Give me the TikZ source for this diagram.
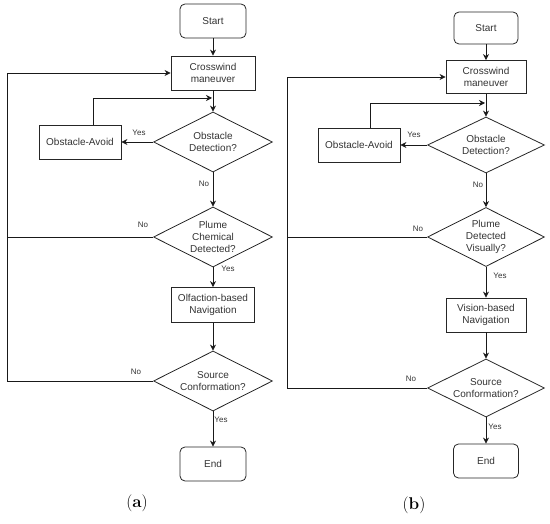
\documentclass[tikz,border=0pt]{standalone}
\usepackage{fontspec}
\setmainfont{Liberation Sans}
\newfontfamily\capfont{Latin Modern Roman}
\usetikzlibrary{shapes.geometric,arrows.meta,calc}
\tikzset{
  base/.style={draw=black!85, line width=0.8pt, inner sep=0pt, align=center,
    font=\fontsize{10}{12}\selectfont, text=black!80},
  term/.style={base, rounded corners=5pt},
  proc/.style={base},
  dec/.style={base, diamond, shape aspect=2},
  lbl/.style={font=\fontsize{8}{9}\selectfont, text=black!80, inner sep=0pt},
  conn/.style={draw=black!90, line width=0.8pt, -{Stealth[length=6pt,width=6pt]}},
  plain/.style={draw=black!90, line width=0.8pt},
  captext/.style={font=\capfont\fontsize{17}{20}\selectfont, inner sep=0pt}
}
\begin{document}
\begin{tikzpicture}[x=1pt,y=-1pt]
\useasboundingbox (0,0) rectangle (550,524);
% ---------- panel (a) ----------
\node[term, minimum width=66, minimum height=34] (aS) at (213,21) {Start};
\node[proc, minimum width=84, minimum height=34] (aC) at (213,73) {Crosswind\\maneuver};
\node[dec, minimum width=119, minimum height=60] (aO) at (213,142) {Obstacle\\Detection?};
\node[proc, minimum width=82, minimum height=34] (aA) at (80,142) {Obstacle-Avoid};
\node[dec, minimum width=119, minimum height=60] (aP) at (213,237) {Plume\\Chemical\\Detected?};
\node[proc, minimum width=83, minimum height=35] (aN) at (213,305) {Olfaction-based\\Navigation};
\node[dec, minimum width=119, minimum height=60] (aF) at (213,381) {Source\\Conformation?};
\node[term, minimum width=66, minimum height=34] (aE) at (213,464) {End};
\coordinate (aL1) at (7,381);
\coordinate (aL2) at (7,73);
\coordinate (aL3) at (7,237);
\coordinate (aT1) at (93,98);
\coordinate (aT2) at (212,98);
\draw[conn] (aS) -- (aC);
\draw[conn] (aC) -- (aO);
\draw[conn] (aO) -- (aA);
\draw[plain] (aA.north -| aT1) -- (aT1);
\draw[conn] (aT1) -- (aT2);
\draw[conn] (aO) -- (aP);
\draw[plain] (aP.west) -- (aL3);
\draw[conn] (aP) -- (aN);
\draw[conn] (aN) -- (aF);
\draw[conn] (aF.west) -- (aL1) -- (aL2) -- (aC.west);
\draw[conn] (aF) -- (aE);
\node[lbl] (ay1) at (139,133) {Yes};
\node[lbl] (an1) at (204,184) {No};
\node[lbl] (an2) at (143,225) {No};
\node[lbl] (ay2) at (228,269) {Yes};
\node[lbl] (an3) at (136,372) {No};
\node[lbl] (ay3) at (221,420) {Yes};
\node[captext] (acap) at (137,503) {(\textbf{a})};
% ---------- panel (b) ----------
\node[term, minimum width=64, minimum height=32] (bS) at (486,28) {Start};
\node[proc, minimum width=80, minimum height=33] (bC) at (486,77) {Crosswind\\maneuver};
\node[dec, minimum width=117, minimum height=56] (bO) at (486,145) {Obstacle\\Detection?};
\node[proc, minimum width=82, minimum height=34] (bA) at (359,145) {Obstacle-Avoid};
\node[dec, minimum width=117, minimum height=59] (bP) at (486,237) {Plume\\Detected\\Visually?};
\node[proc, minimum width=80, minimum height=34] (bN) at (486,315) {Vision-based\\Navigation};
\node[dec, minimum width=117, minimum height=58] (bF) at (486,388) {Source\\Conformation?};
\node[term, minimum width=65, minimum height=34] (bE) at (486,461) {End};
\coordinate (bL1) at (287,388);
\coordinate (bL2) at (287,77);
\coordinate (bL3) at (287,237);
\coordinate (bT1) at (370,103);
\coordinate (bT2) at (485,103);
\draw[conn] (bS) -- (bC);
\draw[conn] (bC) -- (bO);
\draw[conn] (bO) -- (bA);
\draw[plain] (bA.north -| bT1) -- (bT1);
\draw[conn] (bT1) -- (bT2);
\draw[conn] (bO) -- (bP);
\draw[plain] (bP.west) -- (bL3);
\draw[conn] (bP) -- (bN);
\draw[conn] (bN) -- (bF);
\draw[conn] (bF.west) -- (bL1) -- (bL2) -- (bC.west);
\draw[conn] (bF) -- (bE);
\node[lbl] (by1) at (414,135) {Yes};
\node[lbl] (bn1) at (478,185) {No};
\node[lbl] (bn2) at (418,229) {No};
\node[lbl] (by2) at (500,276) {Yes};
\node[lbl] (bn3) at (411,379) {No};
\node[lbl] (by3) at (495,427) {Yes};
\node[captext] (bcap) at (414,505) {(\textbf{b})};
\end{tikzpicture}
\end{document}
